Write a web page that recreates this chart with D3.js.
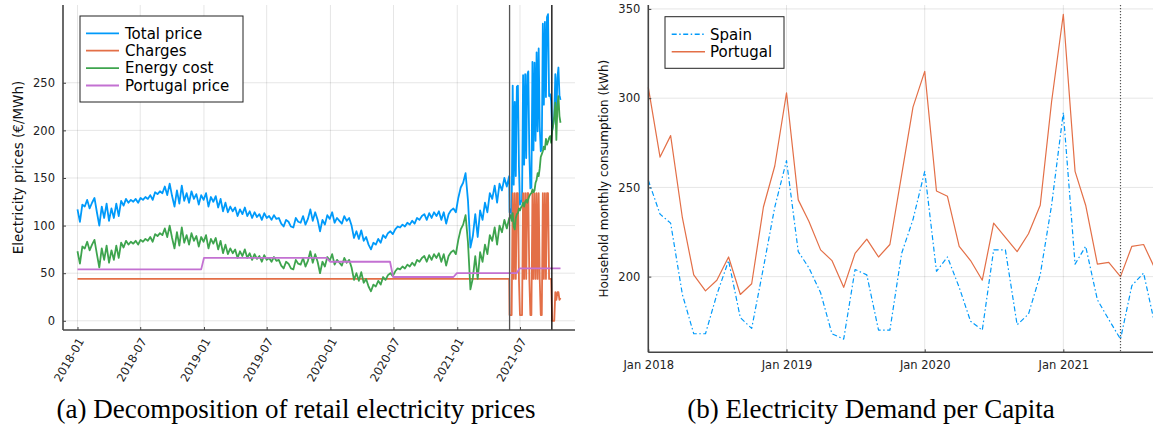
<!DOCTYPE html>
<html lang="en">
<head>
<meta charset="UTF-8" />
<title>Electricity prices and demand</title>
<script src="https://d3js.org/d3.v7.min.js"></script>
<style>
  body { margin: 0; background: #fff; }
  svg { display: block; font-family: "DejaVu Sans", sans-serif; }
  .caption { font-family: "Liberation Serif", "Times New Roman", serif; font-size: 27px; fill: #000; }
  .tick text { fill: #222; }
</style>
</head>
<body>
<svg id="fig" width="1153" height="428"></svg>
<script>
// ---------- panel (a): weekly prices, then every 3 days from June 2021 ----------
const weeklyStart = "2018-01-01";
const energyWeekly = [
  73,60,78,76,83,74,80,85,70,56,
  76,64,79,61,74,64,79,66,82,77,
  84,80,83,81,84,80,85,83,86,84,
  88,83,91,89,92,90,97,88,100,87,
  76,93,79,98,82,90,80,92,84,89,
  78,88,83,90,76,86,81,87,75,84,
  71,80,70,76,71,75,66,73,68,75,
  66,71,64,70,65,68,62,69,64,66,
  62,67,63,64,58,55,62,60,55,54,
  64,60,59,66,57,63,73,61,70,62,
  50,62,57,67,63,70,59,64,61,58,
  66,61,64,56,43,50,42,51,40,44,
  36,31,38,36,42,38,46,43,48,50,
  47,52,55,54,57,55,59,57,61,58,
  64,62,66,68,62,69,64,70,66,71,
  62,70,58,68,72,74,70,85,96,101,
  111,82,33,45,68,44,72,62,80,70,
  90,84,98,80,100,93,106,97,108
];
const totalWeekly = [
  117,104,122,120,127,118,124,129,114,100,
  120,108,123,105,118,108,123,110,126,121,
  128,124,127,125,128,124,129,127,130,128,
  132,127,135,133,136,134,141,132,144,131,
  120,137,123,142,126,134,124,136,128,133,
  122,132,127,134,120,130,125,131,119,128,
  115,124,114,120,115,119,110,117,112,119,
  110,115,108,114,109,112,106,113,108,110,
  106,111,107,108,102,99,106,104,99,98,
  108,104,103,110,101,107,117,105,114,106,
  94,106,101,111,107,114,103,108,105,102,
  110,105,108,100,87,94,86,95,84,88,
  80,75,82,80,86,82,90,87,92,94,
  91,96,99,98,101,99,103,101,105,102,
  108,106,110,112,106,113,108,114,110,115,
  106,114,102,112,116,118,114,129,140,145,
  155,126,77,89,112,88,116,106,124,114,
  134,128,142,124,144,137,150,141,152
];
const chargesFlatDates = ["2018-01-01", "2021-05-31"];
const chargesFlat = [44, 44];

const denseStart = "2021-06-01";
const energyDense = [
  108,111,105,113,99,96,108,112,113,118,
  116,119,121,124,120,125,127,124,128,131,
  133,134,138,135,137,145,148,155,152,160,
  172,175,178,183,180,191,185,188,192,194,
  187,200,206,215,229,190,225,236,215,208
];
const chargesDense = [
  6,6,6,134,44,134,44,134,134,44,
  6,6,6,134,44,134,44,134,134,44,
  6,6,134,44,134,44,134,44,134,44,
  6,6,134,44,134,44,134,134,44,44,
  44,0,0,0,30,22,30,30,22,24
];
const totalDense = [
  114,117,111,247,143,230,152,246,247,162,
  122,125,127,258,164,259,171,258,262,175,
  139,140,272,179,271,189,282,199,286,204,
  178,181,312,227,314,235,319,322,236,238,
  231,200,206,215,259,212,255,266,237,232
];

const portugalDates = ["2018-01-01","2018-12-24","2019-01-01","2019-12-21","2019-12-31",
  "2020-06-21","2020-06-30","2020-12-21","2020-12-31","2021-06-21","2021-06-30","2021-10-26"];
const portugalPrice = [54,54,66,66,62,62,46,46,50,50,55,55];

const eventDates = ["2021-06-01", "2021-10-01"];
const priceTicks = [0, 50, 100, 150, 200, 250];
const priceMonthTicks = ["2018-01","2018-07","2019-01","2019-07","2020-01","2020-07","2021-01","2021-07"];

// ---------- panel (b): monthly household demand ----------
const monthStart = "2018-01-01";
const spainDemand = [
  254,235,230,190,168,168,190,209,177,171,205,239,
  265,214,205,191,168,165,204,201,170,170,213,232,
  259,203,211,194,175,170,215,215,173,179,201,240,
  292,207,217,187,176,165,195,202,172
];
const portugalDemand = [
  306,267,279,233,201,192,198,211,190,196,239,262,
  303,243,231,215,209,194,213,221,211,218,257,295,
  315,248,245,217,209,198,230,222,214,224,240,298,
  347,259,240,207,208,200,217,218,204
];
const demandMarker = "2021-06-01";
const demandTicks = [200, 250, 300, 350];
const demandYearTicks = ["2018-01-01","2019-01-01","2020-01-01","2021-01-01"];

const C = { blue: "#009AFA", orange: "#E36F47", green: "#3EA44E", purple: "#C371D2" };

const parse = d3.utcParse("%Y-%m-%d");
const svg = d3.select("#fig");

// ---------- build series ----------
const t0 = parse(weeklyStart), t1 = parse(denseStart);
const weekly = arr => arr.map((v, i) => ({ date: d3.utcDay.offset(t0, 7 * i), value: v }));
const dense = arr => arr.map((v, i) => ({ date: d3.utcDay.offset(t1, 3 * i), value: v }));
const paired = (ds, vs) => ds.map((d, i) => ({ date: parse(d), value: vs[i] }));

const priceSeries = [
  { name: "Total price", color: C.blue, data: weekly(totalWeekly).concat(dense(totalDense)) },
  { name: "Charges", color: C.orange, data: paired(chargesFlatDates, chargesFlat).concat(dense(chargesDense)) },
  { name: "Energy cost", color: C.green, data: weekly(energyWeekly).concat(dense(energyDense)) },
  { name: "Portugal price", color: C.purple, data: paired(portugalDates, portugalPrice) }
];

// ---------- panel (a) ----------
const A = { left: 63, right: 575, top: 5, bottom: 330 };
const allA = priceSeries.flatMap(s => s.data);
const pad = (lo, hi) => { const p = (hi - lo) * 0.03; return [lo - p, hi + p]; };
const xExtA = d3.extent(allA, d => d.date);
const xPadA = pad(+xExtA[0], +xExtA[1]);
const xA = d3.scaleUtc().domain([new Date(xPadA[0]), new Date(xPadA[1])]).range([A.left, A.right]);
const yA = d3.scaleLinear().domain(pad(...d3.extent(allA, d => d.value))).range([A.bottom, A.top]);

const gA = svg.append("g");
const monthDates = priceMonthTicks.map(d => parse(d + "-01"));

// grid
gA.append("g").selectAll("line").data(monthDates).join("line")
  .attr("x1", d => xA(d)).attr("x2", d => xA(d)).attr("y1", A.top).attr("y2", A.bottom)
  .attr("stroke", "#000").attr("stroke-opacity", 0.1);
gA.append("g").selectAll("line").data(priceTicks).join("line")
  .attr("x1", A.left).attr("x2", A.right).attr("y1", d => yA(d)).attr("y2", d => yA(d))
  .attr("stroke", "#000").attr("stroke-opacity", 0.1);

// series
const lineA = d3.line().x(d => xA(d.date)).y(d => yA(d.value));
priceSeries.forEach(s => {
  gA.append("path").datum(s.data).attr("d", lineA)
    .attr("fill", "none").attr("stroke", s.color).attr("stroke-width", 1.8)
    .attr("stroke-linejoin", "round");
});

// event lines
gA.append("g").selectAll("line").data(eventDates.map(parse)).join("line")
  .attr("x1", d => xA(d)).attr("x2", d => xA(d)).attr("y1", A.top).attr("y2", A.bottom)
  .attr("stroke", (d, i) => i === 0 ? "#555" : "#000").attr("stroke-width", 1.3);

// axes
const yAxisA = gA.append("g").attr("transform", `translate(${A.left},0)`)
  .call(d3.axisLeft(yA).tickValues(priceTicks).tickSizeInner(-3).tickSizeOuter(0).tickPadding(8));
yAxisA.select(".domain").attr("d", `M0,${A.top}V${A.bottom}`);
const xAxisA = gA.append("g").attr("transform", `translate(0,${A.bottom})`)
  .call(d3.axisBottom(xA).tickValues(monthDates).tickSizeInner(-3).tickSizeOuter(0)
    .tickFormat(d3.utcFormat("%Y-%m")));
xAxisA.select(".domain").attr("d", `M${A.left},0H${A.right}`);
xAxisA.selectAll(".tick text")
  .attr("y", null).attr("dy", "0.35em").attr("text-anchor", "end")
  .attr("transform", "translate(3,9) rotate(-60)");
[yAxisA, xAxisA].forEach(ax => {
  ax.attr("font-family", "DejaVu Sans").attr("font-size", 11.5);
  ax.select(".domain").attr("stroke", "#444").attr("stroke-width", 1.6);
  ax.selectAll(".tick line").attr("stroke", "#444");
});

gA.append("text")
  .attr("transform", `translate(18,${(A.top + A.bottom) / 2}) rotate(-90)`)
  .attr("text-anchor", "middle").attr("dy", "0.35em")
  .attr("font-size", 13.5).attr("fill", "#111")
  .text("Electricity prices (€/MWh)");

// legend
const legA = gA.append("g").attr("transform", "translate(80,16)");
legA.append("rect").attr("width", 163).attr("height", 86)
  .attr("fill", "#fff").attr("stroke", "#222").attr("stroke-width", 1);
priceSeries.forEach((s, i) => {
  const yy = 17.3 + i * 17.4;
  legA.append("line").attr("x1", 6).attr("x2", 39).attr("y1", yy).attr("y2", yy)
    .attr("stroke", s.color).attr("stroke-width", 1.8);
  legA.append("text").attr("x", 45).attr("y", yy).attr("dy", "0.35em")
    .attr("font-size", 15).attr("fill", "#000").text(s.name);
});

// ---------- panel (b) ----------
const B = { left: 648.3, right: 1166.7, top: 5, bottom: 352.3 };
const m0 = parse(monthStart);
const monthly = arr => arr.map((v, i) => ({ date: d3.utcMonth.offset(m0, i), value: v }));
const demandSeries = [
  { name: "Spain", color: C.blue, dash: "5,2.5,1.5,2.5", data: monthly(spainDemand) },
  { name: "Portugal", color: C.orange, dash: null, data: monthly(portugalDemand) }
];
const xB = d3.scaleUtc().domain([m0, parse("2021-10-01")]).range([B.left, B.right]);
const yB = d3.scaleLinear().domain([157.6, 352.2]).range([B.bottom, B.top]);
const gB = svg.append("g");
const yearDates = demandYearTicks.map(parse);

gB.append("g").selectAll("line").data(yearDates).join("line")
  .attr("x1", d => xB(d)).attr("x2", d => xB(d)).attr("y1", B.top).attr("y2", B.bottom)
  .attr("stroke", "#000").attr("stroke-opacity", 0.1);
gB.append("g").selectAll("line").data(demandTicks).join("line")
  .attr("x1", B.left).attr("x2", B.right).attr("y1", d => yB(d)).attr("y2", d => yB(d))
  .attr("stroke", "#000").attr("stroke-opacity", 0.1);

const lineB = d3.line().x(d => xB(d.date)).y(d => yB(d.value));
demandSeries.forEach(s => {
  gB.append("path").datum(s.data).attr("d", lineB)
    .attr("fill", "none").attr("stroke", s.color).attr("stroke-width", 1.2)
    .attr("stroke-dasharray", s.dash).attr("stroke-linejoin", "round");
});

gB.append("line")
  .attr("x1", xB(parse(demandMarker))).attr("x2", xB(parse(demandMarker)))
  .attr("y1", B.top).attr("y2", B.bottom)
  .attr("stroke", "#555").attr("stroke-width", 1.2).attr("stroke-dasharray", "1.2,1.8");

const yAxisB = gB.append("g").attr("transform", `translate(${B.left},0)`)
  .call(d3.axisLeft(yB).tickValues(demandTicks).tickSizeInner(-3).tickSizeOuter(0).tickPadding(8));
yAxisB.select(".domain").attr("d", `M0,${B.top}V${B.bottom}`);
const xAxisB = gB.append("g").attr("transform", `translate(0,${B.bottom})`)
  .call(d3.axisBottom(xB).tickValues(yearDates).tickSizeInner(-3).tickSizeOuter(0).tickPadding(9)
    .tickFormat(d3.utcFormat("Jan %Y")));
xAxisB.select(".domain").attr("d", `M${B.left},0H${B.right}`);
[yAxisB, xAxisB].forEach(ax => {
  ax.attr("font-family", "DejaVu Sans").attr("font-size", 11.5);
  ax.select(".domain").attr("stroke", "#444").attr("stroke-width", 1.6);
  ax.selectAll(".tick line").attr("stroke", "#444");
});

gB.append("text")
  .attr("transform", `translate(604,${(B.top + B.bottom) / 2}) rotate(-90)`)
  .attr("text-anchor", "middle").attr("dy", "0.35em")
  .attr("font-size", 12).attr("fill", "#111")
  .text("Household monthly consumption (kWh)");

const legB = gB.append("g").attr("transform", "translate(665,16.7)");
legB.append("rect").attr("width", 119).attr("height", 51.6)
  .attr("fill", "#fff").attr("stroke", "#222").attr("stroke-width", 1);
demandSeries.forEach((s, i) => {
  const yy = 17.6 + i * 17.4;
  legB.append("line").attr("x1", 6.7).attr("x2", 40).attr("y1", yy).attr("y2", yy)
    .attr("stroke", s.color).attr("stroke-width", 1.4).attr("stroke-dasharray", s.dash);
  legB.append("text").attr("x", 45).attr("y", yy).attr("dy", "0.35em")
    .attr("font-size", 15).attr("fill", "#000").text(s.name);
});

// ---------- captions ----------
svg.append("text").attr("class", "caption").attr("x", 296).attr("y", 418)
  .attr("text-anchor", "middle").text("(a) Decomposition of retail electricity prices");
svg.append("text").attr("class", "caption").attr("x", 871).attr("y", 418)
  .attr("text-anchor", "middle").text("(b) Electricity Demand per Capita");
</script>
</body>
</html>
